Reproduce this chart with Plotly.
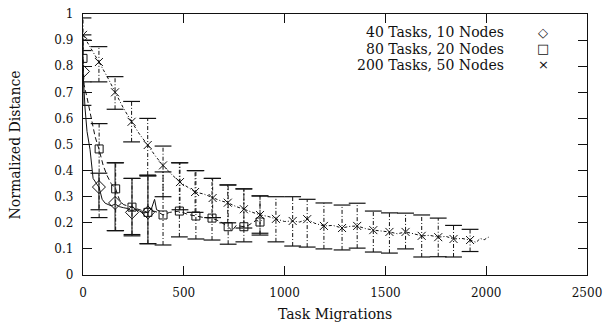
import plotly.graph_objects as go

# ---- data ----
# 40 Tasks, 10 Nodes
t40_line_x = [0, 5, 10, 20, 35, 50, 65, 80, 95, 110, 125, 140, 160, 180, 200, 220, 243, 260, 280, 300, 322, 340, 355, 365, 380]
t40_line_y = [0.78, 0.70, 0.64, 0.55, 0.48, 0.37, 0.35, 0.335, 0.29, 0.275, 0.27, 0.265, 0.272, 0.262, 0.258, 0.255, 0.245, 0.252, 0.245, 0.238, 0.24, 0.255, 0.29, 0.25, 0.245]
t40_pts_x = [0, 79, 159, 243, 322]
t40_pts_y = [0.78, 0.337, 0.276, 0.24, 0.24]
t40_lo = [0.65, 0.25, 0.17, 0.15, 0.12]
t40_hi = [0.90, 0.39, 0.43, 0.37, 0.38]

# 80 Tasks, 20 Nodes
t80_line_x = [0, 5, 20, 40, 60, 80, 100, 120, 140, 162, 180, 200, 220, 243, 270, 300, 322, 350, 380, 397, 430, 478, 520, 560, 600, 640, 680, 720, 740, 760, 798, 820, 840, 860, 878, 885]
t80_line_y = [0.83, 0.73, 0.68, 0.60, 0.53, 0.48, 0.42, 0.38, 0.35, 0.33, 0.29, 0.27, 0.265, 0.26, 0.255, 0.245, 0.24, 0.245, 0.238, 0.23, 0.24, 0.245, 0.232, 0.226, 0.22, 0.218, 0.205, 0.185, 0.17, 0.19, 0.185, 0.19, 0.2, 0.21, 0.203, 0.21]
t80_pts_x = [0, 80, 162, 243, 322, 397, 478, 560, 640, 720, 798, 878]
t80_pts_y = [0.83, 0.483, 0.33, 0.26, 0.24, 0.23, 0.245, 0.226, 0.218, 0.185, 0.185, 0.203]
t80_lo = [0.74, 0.22, 0.17, 0.155, 0.12, 0.115, 0.146, 0.138, 0.134, 0.118, 0.127, 0.153]
t80_hi = [0.92, 0.58, 0.43, 0.37, 0.38, 0.395, 0.43, 0.40, 0.37, 0.345, 0.33, 0.303]

# 200 Tasks, 50 Nodes
t200_line_x = [0, 40, 79, 120, 159, 200, 241, 280, 321, 360, 397, 440, 481, 520, 556, 600, 643, 680, 718, 760, 798, 840, 878, 915, 957, 1000, 1040, 1075, 1112, 1150, 1195, 1240, 1285, 1320, 1360, 1400, 1440, 1480, 1520, 1560, 1600, 1640, 1680, 1720, 1762, 1800, 1838, 1880, 1920, 1950, 1970, 1990, 2010, 2020]
t200_line_y = [0.92, 0.87, 0.816, 0.76, 0.70, 0.64, 0.587, 0.54, 0.498, 0.455, 0.42, 0.385, 0.356, 0.335, 0.318, 0.31, 0.295, 0.285, 0.277, 0.262, 0.252, 0.24, 0.23, 0.225, 0.215, 0.205, 0.207, 0.203, 0.214, 0.198, 0.188, 0.19, 0.18, 0.186, 0.188, 0.178, 0.172, 0.168, 0.165, 0.158, 0.165, 0.158, 0.15, 0.152, 0.145, 0.148, 0.138, 0.14, 0.134, 0.125, 0.14, 0.135, 0.145, 0.14]
t200_pts_x = [0, 79, 159, 241, 321, 397, 481, 556, 643, 718, 798, 878, 957, 1040, 1112, 1195, 1285, 1360, 1440, 1520, 1600, 1680, 1762, 1838, 1920]
t200_pts_y = [0.92, 0.816, 0.70, 0.587, 0.498, 0.42, 0.356, 0.318, 0.295, 0.277, 0.252, 0.23, 0.215, 0.207, 0.214, 0.188, 0.18, 0.188, 0.172, 0.165, 0.165, 0.15, 0.145, 0.138, 0.134]
t200_lo = [0.86, 0.74, 0.635, 0.51, 0.383, 0.30, 0.25, 0.24, 0.22, 0.20, 0.18, 0.16, 0.127, 0.111, 0.107, 0.10, 0.096, 0.103, 0.088, 0.084, 0.10, 0.069, 0.07, 0.069, 0.09]
t200_hi = [0.985, 0.875, 0.76, 0.665, 0.60, 0.494, 0.43, 0.40, 0.37, 0.345, 0.33, 0.303, 0.30, 0.30, 0.29, 0.276, 0.268, 0.275, 0.245, 0.238, 0.237, 0.23, 0.218, 0.19, 0.175]

series_names = ["40 Tasks, 10 Nodes", "80 Tasks, 20 Nodes", "200 Tasks, 50 Nodes"]
x_ticks = [0, 500, 1000, 1500, 2000, 2500]
y_ticks = [0, 0.1, 0.2, 0.3, 0.4, 0.5, 0.6, 0.7, 0.8, 0.9, 1]

INK = "#111111"
SERIF = "DejaVu Serif"

fig = go.Figure()


def add_series(lx, ly, px, py, lo, hi, line_dash, bar_dash, symbol, msize):
    # connecting line
    fig.add_trace(go.Scatter(x=lx, y=ly, mode="lines",
                             line=dict(color=INK, width=1, dash=line_dash),
                             showlegend=False, hoverinfo="skip"))
    # vertical error segments
    sx, sy = [], []
    for xv, a, b in zip(px, lo, hi):
        sx += [xv, xv, None]
        sy += [a, b, None]
    fig.add_trace(go.Scatter(x=sx, y=sy, mode="lines",
                             line=dict(color=INK, width=1, dash=bar_dash),
                             showlegend=False, hoverinfo="skip"))
    # caps
    fig.add_trace(go.Scatter(x=px + px, y=lo + hi, mode="markers",
                             marker=dict(symbol="line-ew-open", size=12, color=INK,
                                         line=dict(color=INK, width=1.2)),
                             showlegend=False, hoverinfo="skip"))
    # point markers
    fig.add_trace(go.Scatter(x=px, y=py, mode="markers",
                             marker=dict(symbol=symbol, size=msize, color=INK,
                                         line=dict(color=INK, width=1)),
                             showlegend=False))


add_series(t40_line_x, t40_line_y, t40_pts_x, t40_pts_y, t40_lo, t40_hi,
           "solid", "solid", "diamond-open", 10)
add_series(t80_line_x, t80_line_y, t80_pts_x, t80_pts_y, t80_lo, t80_hi,
           "5px,3px", "4px,2px,1px,2px", "square-open", 8)
add_series(t200_line_x, t200_line_y, t200_pts_x, t200_pts_y, t200_lo, t200_hi,
           "3px,2px,1px,2px", "4px,2px,1px,2px", "x-thin-open", 8)

axis_common = dict(showgrid=False, zeroline=False, showline=True, linecolor=INK,
                   linewidth=1.3, mirror="ticks", ticks="inside", ticklen=9,
                   tickcolor=INK, tickwidth=1, automargin=False,
                   tickfont=dict(family=SERIF, size=12, color=INK))

fig.update_xaxes(range=[0, 2500], tickvals=x_ticks, ticklabelstandoff=6, **axis_common)
fig.update_yaxes(range=[0, 1], tickvals=y_ticks, ticklabelstandoff=6, **axis_common)

legend_y = [0.931, 0.866, 0.805]
legend_syms = ["◇", "□", "×"]
annotations = []
for name, yy, sym in zip(series_names, legend_y, legend_syms):
    annotations.append(dict(text=name, x=0.839, y=yy, xref="paper", yref="paper",
                            xanchor="right", yanchor="middle", showarrow=False,
                            font=dict(family=SERIF, size=14, color=INK)))
    annotations.append(dict(text=sym, x=0.913, y=yy, xref="paper", yref="paper",
                            xanchor="center", yanchor="middle", showarrow=False,
                            font=dict(family="DejaVu Sans", size=13, color=INK)))
annotations.append(dict(text="Task Migrations", x=0.5, y=-0.149, xref="paper", yref="paper",
                        xanchor="center", yanchor="middle", showarrow=False,
                        font=dict(family=SERIF, size=14, color=INK)))
annotations.append(dict(text="Normalized Distance", x=-0.135, y=0.5, xref="paper", yref="paper",
                        xanchor="center", yanchor="middle", showarrow=False, textangle=-90,
                        font=dict(family=SERIF, size=14, color=INK)))

fig.update_layout(width=605, height=326, margin=dict(l=83, r=18, t=14, b=51),
                  paper_bgcolor="white", plot_bgcolor="white",
                  showlegend=False, annotations=annotations)

fig.write_html("out.html", config={"displayModeBar": False},
               post_script="document.body.style.margin='0';document.body.style.overflow='hidden';")
